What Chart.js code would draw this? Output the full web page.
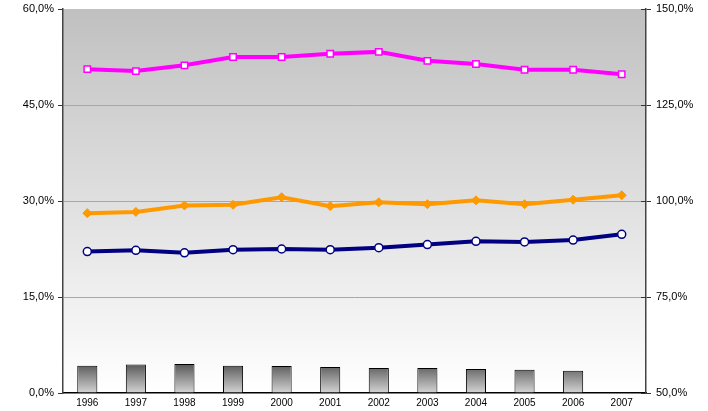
<!DOCTYPE html>
<html><head><meta charset="utf-8">
<script src="https://cdn.jsdelivr.net/npm/chart.js@4/dist/chart.umd.min.js"></script>
<style>html,body{margin:0;padding:0;background:#fff}#w{width:708px;height:411px}</style>
</head><body><div id="w"><canvas id="c" width="708" height="411"></canvas></div>
<script>
const years = ['1996','1997','1998','1999','2000','2001','2002','2003','2004','2005','2006','2007'];
const pinkSeries = [50.6, 50.3, 51.2, 52.5, 52.5, 53.0, 53.3, 51.9, 51.4, 50.5, 50.5, 49.8];
const orangeSeries = [28.1, 28.3, 29.3, 29.4, 30.6, 29.2, 29.8, 29.5, 30.1, 29.5, 30.2, 30.9];
const blueSeries = [22.1, 22.3, 21.9, 22.4, 22.5, 22.4, 22.7, 23.2, 23.7, 23.6, 23.9, 24.8];
const barSeries = [4.27, 4.45, 4.55, 4.27, 4.2, 4.05, 3.9, 3.9, 3.75, 3.64, 3.48, null];
const leftTicks = [0, 15, 30, 45, 60];
const rightTicks = [50, 75, 100, 125, 150];

const fmt = v => v.toFixed(1).replace('.', ',') + '%';

const bgPlugin = {
  id: 'bg',
  beforeDraw(chart) {
    const a = chart.chartArea, ctx = chart.ctx;
    const g = ctx.createLinearGradient(0, a.top, 0, a.bottom);
    g.addColorStop(0, '#c0c0c0');
    g.addColorStop(1, '#ffffff');
    ctx.save();
    ctx.fillStyle = g;
    ctx.fillRect(a.left, a.top, a.right - a.left, a.bottom - a.top);
    ctx.restore();
  },
  afterDraw(chart) {
    const ctx = chart.ctx, s = chart.scales.y2;
    ctx.save();
    ctx.strokeStyle = '#333';
    ctx.lineWidth = 1;
    s.ticks.forEach(t => {
      const y = Math.round(s.getPixelForValue(t.value)) + 0.5;
      ctx.beginPath();
      ctx.moveTo(s.left - 5, y);
      ctx.lineTo(s.left, y);
      ctx.stroke();
    });
    ctx.restore();
  }
};

new Chart(document.getElementById('c'), {
  type: 'bar',
  data: {
    labels: years,
    datasets: [
      {
        type: 'line', data: pinkSeries, yAxisID: 'y', order: 1,
        borderColor: '#ff00ff', borderWidth: 4, pointStyle: 'rect', pointRadius: 4.5,
        pointBackgroundColor: '#ffffff', pointBorderColor: '#ff00ff', pointBorderWidth: 1.5, tension: 0
      },
      {
        type: 'line', data: orangeSeries, yAxisID: 'y', order: 2,
        borderColor: '#ff9900', borderWidth: 4, pointStyle: 'rectRot', pointRadius: 4.5,
        pointBackgroundColor: '#ff9900', pointBorderColor: '#ff9900', pointBorderWidth: 1, tension: 0
      },
      {
        type: 'line', data: blueSeries, yAxisID: 'y', order: 3,
        borderColor: '#000080', borderWidth: 4, pointStyle: 'circle', pointRadius: 4,
        pointBackgroundColor: '#ffffff', pointBorderColor: '#000080', pointBorderWidth: 1.5, tension: 0
      },
      {
        type: 'bar', data: barSeries, yAxisID: 'y', order: 10,
        borderColor: '#000000', borderWidth: 1, borderSkipped: 'bottom',
        barPercentage: 0.45, categoryPercentage: 0.92,
        backgroundColor(ctx) {
          const chart = ctx.chart, a = chart.chartArea;
          if (!a) return '#888';
          const s = chart.scales.y;
          const g = chart.ctx.createLinearGradient(0, s.getPixelForValue(4.6), 0, a.bottom);
          g.addColorStop(0, '#555555');
          g.addColorStop(1, '#d4d4d4');
          return g;
        }
      }
    ]
  },
  options: {
    responsive: false,
    animation: false,
    layout: { padding: { top: 9, left: 0, right: 0, bottom: 0 } },
    plugins: { legend: { display: false }, tooltip: { enabled: false } },
    scales: {
      x: {
        offset: true,
        grid: { display: false, drawTicks: false },
        border: { display: true, color: '#000', width: 1.5 },
        ticks: { color: '#000', font: { family: 'Liberation Sans, Arial', size: 10 }, padding: 4, maxRotation: 0 },
        afterFit(s) { s.height = 18; }
      },
      y: {
        position: 'left', min: 0, max: 60,
        afterBuildTicks(s) { s.ticks = leftTicks.map(v => ({ value: v })); },
        grid: {
          color: c => (c.tick && (c.tick.value === 0 || c.tick.value === 60)) ? 'rgba(0,0,0,0)' : '#a8a8a8',
          tickColor: '#333', tickLength: 5, lineWidth: 1
        },
        border: { display: true, color: '#444', width: 1.5 },
        ticks: { color: '#000', font: { family: 'Liberation Sans, Arial', size: 11 }, padding: 4, callback: v => fmt(v) },
        afterFit(s) { s.width = 63; s.paddingTop = 0; s.paddingBottom = 0; }
      },
      y2: {
        position: 'right', min: 50, max: 150,
        afterBuildTicks(s) { s.ticks = rightTicks.map(v => ({ value: v })); },
        grid: { drawOnChartArea: false, tickColor: '#333', tickLength: 5 },
        border: { display: true, color: '#444', width: 1.5 },
        ticks: { color: '#000', font: { family: 'Liberation Sans, Arial', size: 11 }, padding: 5, callback: v => fmt(v) },
        afterFit(s) { s.width = 62; s.paddingTop = 0; s.paddingBottom = 0; }
      }
    }
  },
  plugins: [bgPlugin]
});
</script>
</body></html>
